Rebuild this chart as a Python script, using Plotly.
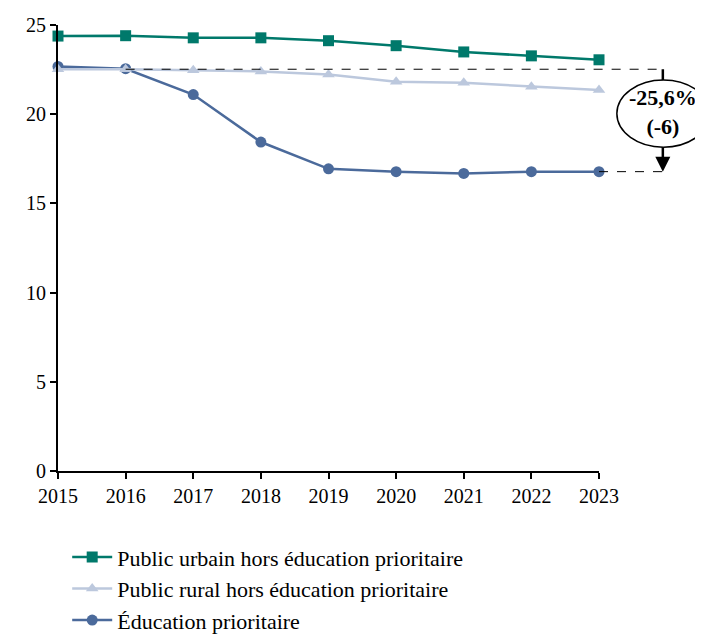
import plotly.graph_objects as go

years = [2015, 2016, 2017, 2018, 2019, 2020, 2021, 2022, 2023]
urbain = [24.38, 24.40, 24.28, 24.28, 24.12, 23.84, 23.49, 23.27, 23.05]
rural = [22.52, 22.52, 22.46, 22.40, 22.22, 21.82, 21.76, 21.54, 21.36]
prioritaire = [22.68, 22.55, 21.10, 18.44, 16.94, 16.78, 16.68, 16.78, 16.78]
names = ["Public urbain hors éducation prioritaire",
         "Public rural hors éducation prioritaire",
         "Éducation prioritaire"]
colors = ["#00796B", "#BCC8DD", "#4B6A9B"]
symbols = ["square", "triangle-up", "circle"]
ref_top = 22.52
ref_bot = 16.78
label = "<b>-25,6%<br>(-6)</b>"
YMAX = 25

FONT = "Liberation Serif"

fig = go.Figure()
series = [urbain, rural, prioritaire]
for i in [2, 1, 0]:
    fig.add_trace(go.Scatter(
        x=years, y=series[i], name=names[i], mode="lines+markers",
        line=dict(color=colors[i], width=2.5),
        marker=dict(symbol=symbols[i], size=11, color=colors[i]),
        legendrank=i + 1, legendgroup=str(i), cliponaxis=False,
    ))

def py(v):
    return v / YMAX

AX = 1.118  # arrow x in paper coords

fig.add_shape(type="line", xref="paper", yref="paper", x0=1 / 8, x1=1.122, y0=py(ref_top), y1=py(ref_top),
              line=dict(color="black", width=1, dash="dash"))
fig.add_shape(type="line", xref="paper", yref="paper", x0=1.0, x1=1.122, y0=py(ref_bot), y1=py(ref_bot),
              line=dict(color="black", width=1, dash="dash"))
fig.add_shape(type="line", xref="paper", yref="paper", x0=AX, x1=AX, y0=py(ref_top), y1=py(18.5),
              line=dict(color="black", width=2.5))
fig.add_shape(type="circle", xref="paper", yref="paper", x0=1.033, x1=1.205, y0=py(18.15), y1=py(21.92),
              line=dict(color="black", width=1.5), fillcolor="white")
fig.add_annotation(x=AX, y=py(ref_bot), xref="paper", yref="paper", ax=0, ay=-26,
                   text="", showarrow=True, arrowhead=2, arrowsize=1.2,
                   arrowwidth=2.5, arrowcolor="black")
fig.add_annotation(x=AX, y=py(20.1), xref="paper", yref="paper", text=label, showarrow=False,
                   xanchor="center", yanchor="middle",
                   font=dict(family=FONT, size=22, color="black"))

W, H = 695, 660
fig.update_layout(
    width=W, height=H,
    margin=dict(l=50, r=104, t=17, b=H - 463, autoexpand=False),
    plot_bgcolor="white", paper_bgcolor="white",
    font=dict(family=FONT, size=20, color="black"),
    showlegend=True,
    legend=dict(x=0.017, xanchor="left", y=-0.146, yanchor="top", orientation="v",
                font=dict(family=FONT, size=22, color="black"), tracegroupgap=0,
                itemwidth=40),
)
fig.update_xaxes(range=[2015, 2023], tickvals=years, showgrid=False, zeroline=False,
                 showline=True, linecolor="black", linewidth=2, ticks="outside",
                 ticklen=6, tickwidth=1.5, tickcolor="black", automargin=False,
                 tickfont=dict(family=FONT, size=20))
fig.update_yaxes(range=[0, YMAX], tickvals=[0, 5, 10, 15, 20, 25], showgrid=False, zeroline=False,
                 showline=True, linecolor="black", linewidth=2, ticks="outside",
                 ticklen=6, tickwidth=1.5, tickcolor="black", automargin=False,
                 tickfont=dict(family=FONT, size=20))

fig.write_html("out.html")
